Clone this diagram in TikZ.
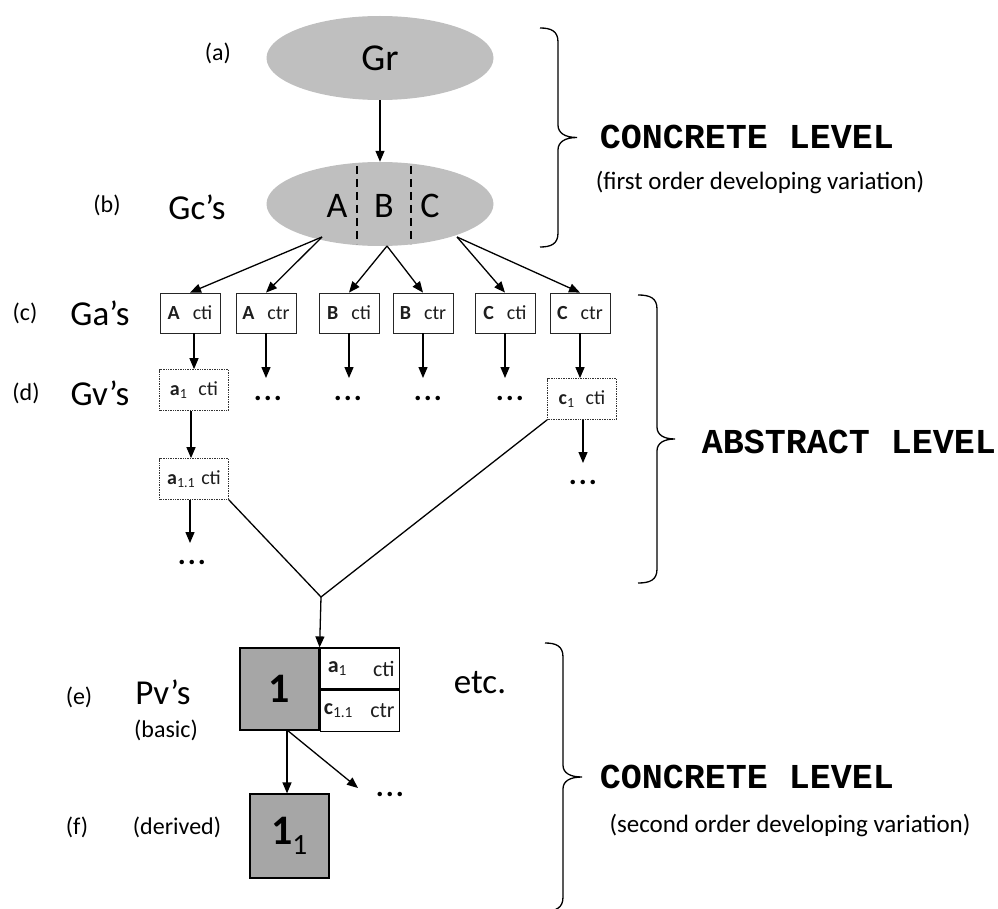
\documentclass[tikz,border=0pt]{standalone}
\usepackage{fontspec}
\setmainfont{Carlito}
\newfontfamily\monofnt{Liberation Mono}
\usetikzlibrary{shapes.geometric,arrows.meta}
\definecolor{ellgray}{RGB}{191,191,191}
\definecolor{boxgray}{RGB}{166,166,166}
\definecolor{txtgray}{RGB}{30,30,30}
\newcommand{\tdots}{.\hspace{2pt}.\hspace{2pt}.}
\begin{document}
\begin{tikzpicture}[x=1pt,y=-1pt,
  arr/.style={-{Triangle[length=11pt,width=9pt]}, line width=1.3pt},
  plain/.style={line width=1.3pt},
  ell/.style={ellipse, fill=ellgray, minimum width=227pt, minimum height=84pt, inner sep=0pt},
  big/.style={font=\fontsize{35}{40}\selectfont, inner sep=0pt},
  small/.style={font=\fontsize{24}{28}\selectfont, inner sep=0pt},
  level/.style={font=\fontsize{35}{40}\selectfont\monofnt\bfseries, inner sep=0pt},
  caption/.style={font=\fontsize{25}{30}\selectfont, inner sep=0pt},
  gabox/.style={draw=black!85, line width=0.8pt, minimum width=60pt, minimum height=40pt, inner sep=0pt, font=\fontsize{20}{22}\selectfont, text=txtgray},
  gvbox/.style={draw=black!80, densely dotted, line width=0.7pt, minimum width=69pt, minimum height=41pt, inner sep=0pt, font=\fontsize{20}{22}\selectfont, text=txtgray},
  dots/.style={font=\fontsize{30}{34}\selectfont\bfseries, inner sep=0pt},
  pvbox/.style={draw=black, fill=boxgray, line width=1.2pt, inner sep=0pt, font=\fontsize{42}{46}\selectfont},
  tabbox/.style={draw=black, line width=1.2pt, minimum width=79pt, minimum height=41pt, inner sep=0pt},
  tabtxt/.style={font=\fontsize{22}{24}\selectfont, inner sep=0pt, text=txtgray},
  brc/.style={line width=1.3pt}
]
\useasboundingbox (0,0) rectangle (998,909);

% concrete level ellipses
\node[ell, font=\fontsize{38}{42}\selectfont] (gr) at (380,58) {Gr};
\node[ell] (gc) at (380,204) {};
\node[font=\fontsize{36}{40}\selectfont, inner sep=0pt] (lA) at (337,206) {A};
\node[font=\fontsize{36}{40}\selectfont, inner sep=0pt] (lB) at (384,206) {B};
\node[font=\fontsize{36}{40}\selectfont, inner sep=0pt] (lC) at (430,206) {C};
\coordinate (d1t) at (357,166); \coordinate (d1b) at (357,244);
\coordinate (d2t) at (411,166); \coordinate (d2b) at (411,244);
\draw[line width=1.6pt, dash pattern=on 8pt off 5pt] (d1t) -- (d1b);
\draw[line width=1.6pt, dash pattern=on 8pt off 5pt] (d2t) -- (d2b);
\draw[arr] (gr) -- (gc);

% left labels
\node[small] (la) at (218,53) {(a)};
\node[small] (lb) at (107,205) {(b)};
\node[big] (lgc) at (197,207) {Gc’s};
\node[small] (lc) at (25,313) {(c)};
\node[big] (lga) at (100,313) {Ga’s};
\node[small] (ld) at (26,393) {(d)};
\node[big] (lgv) at (100,393) {Gv’s};
\node[small] (le) at (79,697) {(e)};
\node[big] (lpv) at (163,692) {Pv’s};
\node[small] (lbasic) at (166,730) {(basic)};
\node[small] (lf) at (77,827) {(f)};
\node[small] (lder) at (177,827) {(derived)};

% Ga boxes
\node[gabox] (ga1) at (190,313) {\textbf{A}\hspace{13pt}cti};
\node[gabox] (ga2) at (266,313) {\textbf{A}\hspace{13pt}ctr};
\node[gabox] (ga3) at (349,313) {\textbf{B}\hspace{13pt}cti};
\node[gabox] (ga4) at (423,313) {\textbf{B}\hspace{13pt}ctr};
\node[gabox] (ga5) at (505,313) {\textbf{C}\hspace{13pt}cti};
\node[gabox] (ga6) at (580,313) {\textbf{C}\hspace{13pt}ctr};

\coordinate (sA) at (322,237);
\coordinate (sB) at (387,246);
\coordinate (sC) at (457,237);
\draw[arr] (sA) -- (ga1.north);
\draw[arr] (sA) -- (ga2.north);
\draw[arr] (sB) -- (ga3.north);
\draw[arr] (sB) -- (ga4.north);
\draw[arr] (sC) -- (ga5.north);
\draw[arr] (sC) -- (ga6.north);

% Gv boxes
\node[gvbox] (a1) at (194,390) {\textbf{a}\textsubscript{1}\hspace{11pt}cti};
\node[gvbox] (c1) at (582,399) {\textbf{c}\textsubscript{1}\hspace{11pt}cti};
\node[gvbox] (a11) at (194,479) {\textbf{a}\textsubscript{1.1}\hspace{6pt}cti};

\coordinate (t2) at (266,378);
\coordinate (t3) at (349,378);
\coordinate (t4) at (423,378);
\coordinate (t5) at (505,378);
\node[dots] (dt2) at (268,398) {\tdots};
\node[dots] (dt3) at (348,398) {\tdots};
\node[dots] (dt4) at (428,398) {\tdots};
\node[dots] (dt5) at (510,398) {\tdots};
\draw[arr] (ga1.south -| a1.north) -- (a1.north);
\draw[arr] (ga2.south) -- (t2);
\draw[arr] (ga3.south) -- (t3);
\draw[arr] (ga4.south) -- (t4);
\draw[arr] (ga5.south) -- (t5);
\draw[arr] (ga6.south) -- (c1.north -| ga6.south);

\draw[arr] ([xshift=-3pt]a1.south) -- ([xshift=-3pt]a11.north);
\coordinate (ta11) at (190,543);
\node[dots] (da11) at (192,562) {\tdots};
\draw[arr] ([xshift=-4pt]a11.south) -- (ta11);
\coordinate (tc1) at (583,463);
\node[dots] (dc1) at (583,482) {\tdots};
\draw[arr] (c1.south -| tc1) -- (tc1);

% junction
\coordinate (j) at (321,597);
\draw[plain] (a11.south east) -- (j) -- (c1.south west);

% Pv boxes
\node[pvbox, minimum width=79pt, minimum height=82pt] (pv) at (279.5,689) {\textbf{1}};
\node[tabbox, anchor=north west] (r1) at (pv.north east) {};
\node[tabbox, anchor=north west] (r2) at (r1.south west) {};
\node[tabtxt, anchor=west] (r1a) at ([xshift=8pt]r1.west) {\textbf{a}\textsubscript{1}};
\node[tabtxt, anchor=east] (r1b) at ([xshift=-5pt]r1.east) {cti};
\node[tabtxt, anchor=west] (r2a) at ([xshift=4pt]r2.west) {\textbf{c}\textsubscript{1.1}};
\node[tabtxt, anchor=east] (r2b) at ([xshift=-5pt]r2.east) {ctr};
\draw[arr] (j) -- (pv.north east);

\node[pvbox, minimum width=79pt, minimum height=84pt] (pd) at (289.5,836) {\textbf{1}\textsubscript{1}};
\coordinate (ps) at (287,730);
\coordinate (pe) at (358,788);
\draw[arr] (ps) -- (ps |- pd.north);
\draw[arr] (ps) -- (pe);
\node[dots] (dpe) at (390,794) {\tdots};
\node[big] (etc) at (480,683) {etc.};

% braces
\draw[brc] (540,28) .. controls (551,28) and (558,31) .. (558,42) -- (558,125)
  .. controls (558,133) and (565,137.5) .. (577,137.5)
  .. controls (565,137.5) and (558,142) .. (558,150) -- (558,233)
  .. controls (558,244) and (551,247) .. (540,247);
\draw[brc] (638,295) .. controls (650,295) and (657,298) .. (657,309) -- (657,427)
  .. controls (657,435) and (664,439) .. (675,439)
  .. controls (664,439) and (657,443) .. (657,451) -- (657,569)
  .. controls (657,580) and (650,583) .. (638,583);
\draw[brc] (545,643) .. controls (556,643) and (563,646) .. (563,657) -- (563,765)
  .. controls (563,773) and (570,777) .. (582,777)
  .. controls (570,777) and (563,781) .. (563,789) -- (563,897)
  .. controls (563,908) and (556,911) .. (545,911);

% level texts
\node[level] (cl1) at (747,137) {CONCRETE LEVEL};
\node[caption] (cap1) at (760,183) {(first order developing variation)};
\node[level] (al) at (849,442) {ABSTRACT LEVEL};
\node[level] (cl2) at (747,777) {CONCRETE LEVEL};
\node[caption] (cap2) at (790,825) {(second order developing variation)};
\end{tikzpicture}
\end{document}
